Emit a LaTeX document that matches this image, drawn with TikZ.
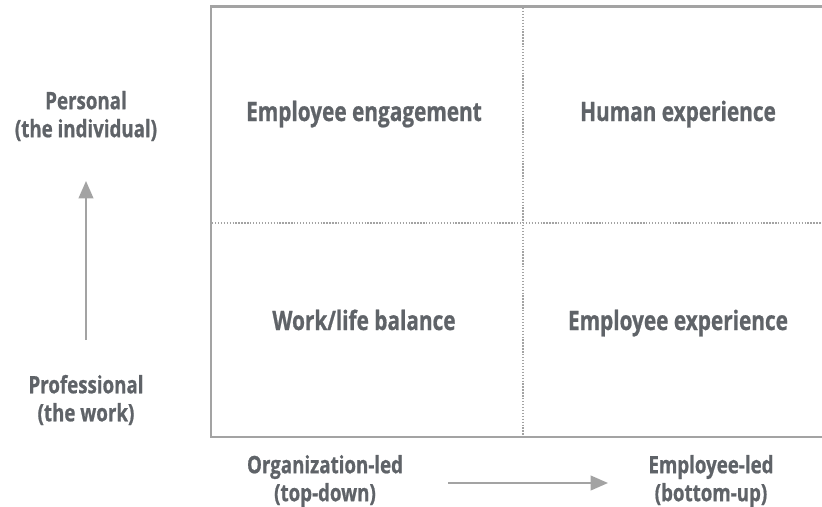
\documentclass[tikz,border=0pt]{standalone}
\usepackage{fontspec}
\setmainfont{Open Sans}[FakeStretch=0.78, BoldFeatures={FakeBold=0.8}]
\usetikzlibrary{arrows.meta}
\definecolor{labelgray}{HTML}{5F6368}
\definecolor{linegray}{HTML}{A3A3A3}
\begin{document}
\begin{tikzpicture}[x=0.75pt,y=-0.75pt,
    quadlabel/.style={text=labelgray, anchor=base, font=\bfseries\fontsize{20}{24}\selectfont},
    sidelabel/.style={text=labelgray, font=\bfseries\fontsize{18}{21}\selectfont, align=center},
    frameline/.style={linegray, line width=2.2pt},
    gridline/.style={linegray, line width=0.9pt, dash pattern=on 1pt off 1.2pt},
    axisarrow/.style={linegray, line width=1.5pt, -{Triangle[length=13pt, width=11pt]}}]
    \useasboundingbox (0,0) rectangle (822,507);
    % frame
    \draw[frameline] (822,6.5) -- (211,6.5) -- (211,437) -- (822,437);
    \draw[gridline] (523,8) -- (523,436);
    \draw[gridline] (212,223) -- (822,223);
    % quadrants
    \node[quadlabel] (engage) at (364,121) {Employee engagement};
    \node[quadlabel] (human) at (678,121) {Human experience};
    \node[quadlabel] (balance) at (364,330) {Work/life balance};
    \node[quadlabel] (exper) at (678,330) {Employee experience};
    % axes
    \node[sidelabel] (personal) at (86,116) {Personal\\(the individual)};
    \node[sidelabel] (profess) at (86,400) {Professional\\(the work)};
    \node[sidelabel] (orgled) at (325,481) {Organization-led\\(top-down)};
    \node[sidelabel] (empled) at (711,481) {Employee-led\\(bottom-up)};
    \coordinate (vstart) at (86,340);
    \coordinate (vend) at (86,181);
    \coordinate (hstart) at (448,483);
    \coordinate (hend) at (608,483);
    \draw[axisarrow] (vstart) -- (vend);
    \draw[axisarrow] (hstart) -- (hend);
\end{tikzpicture}
\end{document}
